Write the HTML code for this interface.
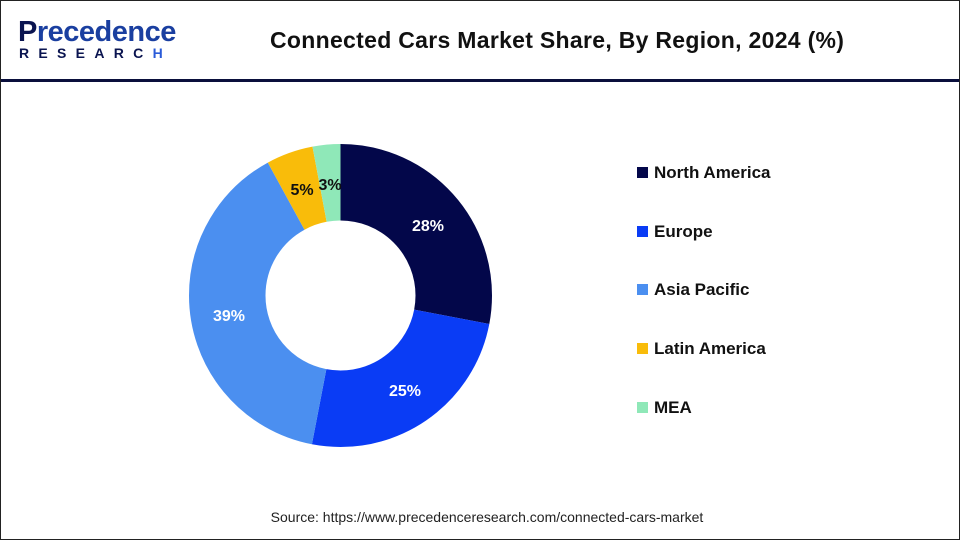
<!DOCTYPE html>
<html><head><meta charset="utf-8"><style>
body{margin:0;width:960px;height:540px;background:#fff;font-family:"Liberation Sans",sans-serif;overflow:hidden}
.frame{position:absolute;left:0;top:0;width:958px;height:538px;border:1px solid #222}
.hline{position:absolute;left:1px;top:79px;width:958px;height:3px;background:#0a0f3c}
</style></head><body>
<div class="frame"></div>
<div class="hline"></div>
<div style="position:absolute;left:18px;top:16px;font-size:29px;font-weight:bold;color:#0a1450;letter-spacing:-0.5px">P<span style="color:#1a3fa0">recedence</span></div>
<div style="position:absolute;left:19px;top:45px;font-size:14px;font-weight:bold;color:#0a1450;letter-spacing:9.3px">RESEARC<span style="color:#2a5bd8">H</span></div>
<div style="position:absolute;left:270px;top:27px;font-size:23px;font-weight:bold;color:#111;letter-spacing:0.3px;white-space:nowrap">Connected Cars Market Share, By Region, 2024 (%)</div>
<svg width="960" height="540" style="position:absolute;left:0;top:0">
<g transform="rotate(-90 340.5 295.5)" fill="none" stroke-width="76.5">
<circle cx="340.5" cy="295.5" r="113.25" stroke="#03074a" stroke-dasharray="199.24 711.57" stroke-dashoffset="0"/>
<circle cx="340.5" cy="295.5" r="113.25" stroke="#0a3cf5" stroke-dasharray="177.89 711.57" stroke-dashoffset="-199.24"/>
<circle cx="340.5" cy="295.5" r="113.25" stroke="#4b8ff0" stroke-dasharray="277.51 711.57" stroke-dashoffset="-377.13"/>
<circle cx="340.5" cy="295.5" r="113.25" stroke="#f9bc0a" stroke-dasharray="35.58 711.57" stroke-dashoffset="-654.64"/>
<circle cx="340.5" cy="295.5" r="113.25" stroke="#8fe8b8" stroke-dasharray="21.35 711.57" stroke-dashoffset="-690.22"/>
</g>
<g font-family="Liberation Sans,sans-serif" font-weight="bold" font-size="16" text-anchor="middle">
<text x="428" y="231" fill="#fff">28%</text>
<text x="405" y="396" fill="#fff">25%</text>
<text x="229" y="321" fill="#fff">39%</text>
<text x="302" y="195" fill="#111">5%</text>
<text x="330" y="190" fill="#111">3%</text>
</g>
<g font-family="Liberation Sans,sans-serif" font-weight="bold" font-size="17" fill="#111">
<rect x="637" y="167" width="11" height="11" fill="#03074a"/><text x="654" y="178">North America</text>
<rect x="637" y="226" width="11" height="11" fill="#0a3cf5"/><text x="654" y="237">Europe</text>
<rect x="637" y="284" width="11" height="11" fill="#4b8ff0"/><text x="654" y="295">Asia Pacific</text>
<rect x="637" y="343" width="11" height="11" fill="#f9bc0a"/><text x="654" y="354">Latin America</text>
<rect x="637" y="402" width="11" height="11" fill="#8fe8b8"/><text x="654" y="413">MEA</text>
</g>
<text x="487" y="522" text-anchor="middle" font-family="Liberation Sans,sans-serif" font-size="14" fill="#222">Source: https://www.precedenceresearch.com/connected-cars-market</text>
</svg>
</body></html>
